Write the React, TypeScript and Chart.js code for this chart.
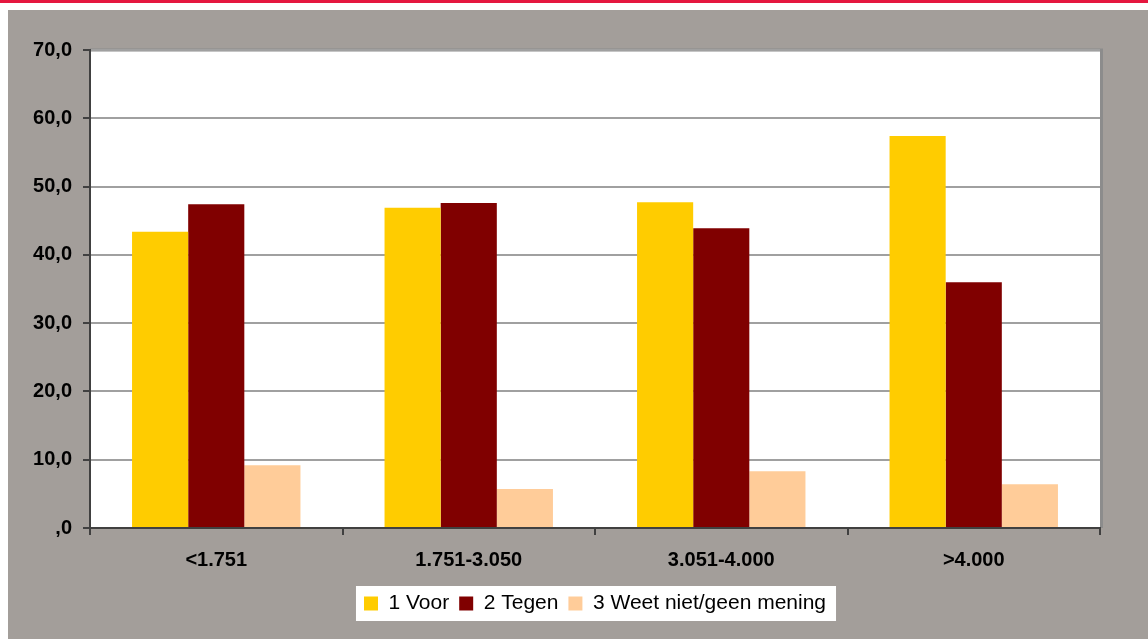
import React, { useEffect, useRef } from 'react';
import { Chart, registerables } from 'chart.js';

Chart.register(...registerables);

const categories = ['<1.751', '1.751-3.050', '3.051-4.000', '>4.000'];
const voor = [43.4, 46.9, 47.7, 57.4];
const tegen = [47.4, 47.6, 43.9, 36.0];
const weetNiet = [9.2, 5.7, 8.3, 6.4];
const seriesLabels = ['1 Voor', '2 Tegen', '3 Weet niet/geen mening'];
const yTickLabels = [',0', '10,0', '20,0', '30,0', '40,0', '50,0', '60,0', '70,0'];

const FONT = "'Liberation Sans', Arial, sans-serif";
const GRAY_BG = '#a39e9a';
const AXIS = '#404040';

const backgroundPlugin = {
  id: 'bgPlugin',
  beforeDraw(chart: any) {
    const { ctx, width, height, chartArea } = chart;
    ctx.save();
    ctx.fillStyle = '#ffffff';
    ctx.fillRect(0, 0, width, height);
    ctx.fillStyle = '#e5173f';
    ctx.fillRect(0, 0, width, 3);
    ctx.fillStyle = GRAY_BG;
    ctx.fillRect(8, 10, width - 8, height - 10);
    // plot area
    ctx.fillStyle = '#ffffff';
    ctx.fillRect(chartArea.left, chartArea.top, chartArea.right - chartArea.left, chartArea.bottom - chartArea.top);
    ctx.strokeStyle = '#8c8c8c';
    ctx.lineWidth = 3;
    ctx.beginPath();
    ctx.moveTo(chartArea.left, chartArea.top);
    ctx.lineTo(chartArea.right + 1.5, chartArea.top);
    ctx.lineTo(chartArea.right + 1.5, chartArea.bottom);
    ctx.stroke();
    // legend background
    const legend = chart.legend;
    if (legend && legend.legendHitBoxes && legend.legendHitBoxes.length) {
      const boxes = legend.legendHitBoxes;
      const first = boxes[0];
      const last = boxes[boxes.length - 1];
      const left = first.left - 8;
      const right = last.left + last.width + 10;
      const cy = first.top + first.height / 2;
      ctx.fillStyle = '#ffffff';
      ctx.fillRect(left, cy - 17.5, right - left, 35);
    }
    ctx.restore();
  },
};

export default function App() {
  const canvasRef = useRef<HTMLCanvasElement | null>(null);

  useEffect(() => {
    if (!canvasRef.current) return;
    const chart = new Chart(canvasRef.current, {
      type: 'bar',
      data: {
        labels: categories,
        datasets: [
          { label: seriesLabels[0], data: voor, backgroundColor: '#ffcc00', borderWidth: 0 },
          { label: seriesLabels[1], data: tegen, backgroundColor: '#800000', borderWidth: 0 },
          { label: seriesLabels[2], data: weetNiet, backgroundColor: '#ffcc99', borderWidth: 0 },
        ],
      },
      options: {
        animation: false,
        responsive: false,
        maintainAspectRatio: false,
        devicePixelRatio: 1,
        layout: { padding: { top: 50, right: 48, left: 0, bottom: 15 } },
        datasets: { bar: { categoryPercentage: 0.667, barPercentage: 1 } },
        scales: {
          x: {
            afterFit: (s: any) => { s.height = 55; },
            grid: { display: true, drawOnChartArea: false, tickLength: 7, color: AXIS, lineWidth: 2 },
            border: { display: true, color: AXIS, width: 2 },
            ticks: { color: '#000', padding: 13, font: { family: FONT, size: 20, weight: 'bold' } },
          },
          y: {
            min: 0,
            max: 70,
            afterFit: (s: any) => { s.width = 90; },
            ticks: {
              stepSize: 10,
              color: '#000',
              padding: 11,
              font: { family: FONT, size: 20, weight: 'bold' },
              callback: (_v: any, i: number) => yTickLabels[i],
            },
            grid: { color: '#a0a0a0', lineWidth: 2, tickLength: 7, tickColor: AXIS, tickWidth: 2 },
            border: { display: true, color: AXIS, width: 2 },
          },
        },
        plugins: {
          legend: {
            position: 'bottom',
            fullSize: false,
            labels: {
              boxWidth: 14,
              boxHeight: 14,
              padding: 10,
              color: '#000',
              font: { family: FONT, size: 21 },
            },
          },
          tooltip: { enabled: false },
        },
      },
      plugins: [backgroundPlugin],
    } as any);
    return () => chart.destroy();
  }, []);

  return (
    <div style={{ position: 'fixed', left: 0, top: 0, width: 1148, height: 639 }}>
      <canvas ref={canvasRef} width={1148} height={639} style={{ display: 'block', width: 1148, height: 639 }} />
    </div>
  );
}
